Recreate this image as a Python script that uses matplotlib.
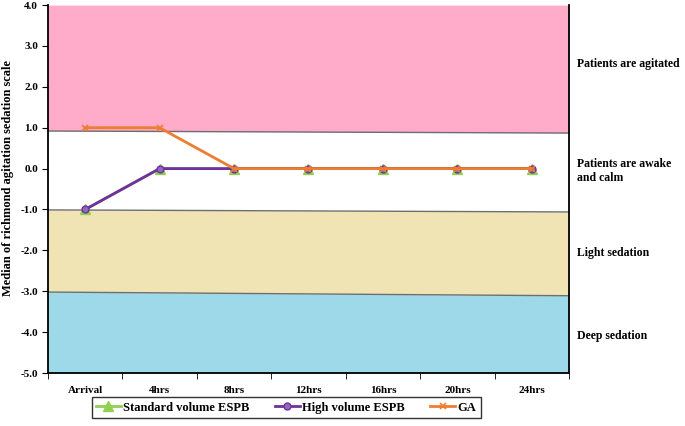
import matplotlib.pyplot as plt
import numpy as np

plt.rcParams['font.family'] = ['Liberation Serif', 'DejaVu Serif']
plt.rcParams['font.weight'] = 'bold'

times = ['Arrival', '4hrs', '8hrs', '12hrs', '16hrs', '20hrs', '24hrs']
standard_espb = [-1, 0, 0, 0, 0, 0, 0]
high_espb = [-1, 0, 0, 0, 0, 0, 0]
ga = [1, 1, 0, 0, 0, 0, 0]

# zone boundaries (left edge, right edge) - drawn slightly tilted in the original
agitated_edge = [0.92, 0.87]
light_edge = [-1.01, -1.06]
deep_edge = [-3.02, -3.11]
zone_labels = ['Patients are agitated', 'Patients are awake\nand calm',
               'Light sedation', 'Deep sedation']
zone_label_y = [2.55, -0.05, -2.07, -4.1]

fig = plt.figure(figsize=(6.85, 4.26), dpi=100)
ax = fig.add_axes([0.070, 0.1244, 0.7607, 0.8636])

xs = np.array([-0.5, 6.5])
ax.fill_between(xs, agitated_edge, 4.0, color='#FFABC9', lw=0, zorder=0)
ax.fill_between(xs, light_edge, agitated_edge, color='white', lw=0, zorder=0)
ax.fill_between(xs, deep_edge, light_edge, color='#F0E4B4', lw=0, zorder=0)
ax.fill_between(xs, -5.0, deep_edge, color='#9DD9E8', lw=0, zorder=0)
for edge in (agitated_edge, light_edge, deep_edge):
    ax.plot(xs, edge, color='#6E6E6E', lw=1.0, zorder=1)

x = np.arange(len(times))
ax.plot(x, standard_espb, color='#92D050', marker='^', ms=7, lw=2,
        label='Standard volume ESPB', zorder=3)
ax.plot(x, high_espb, color='#7030A0', marker='o', ms=5, mfc='#8E6BB5',
        lw=2, label='High volume ESPB', zorder=4)
ax.plot(x, ga, color='#ED7D31', marker='x', ms=5, mew=1.2, lw=2,
        label='GA', zorder=5)

ax.set_xlim(-0.5, 6.5)
ax.set_ylim(-5.0, 4.0)
ax.set_yticks(np.arange(-5, 5, 1))
ax.set_yticklabels(['%.1f' % v for v in np.arange(-5, 5, 1)], fontsize=8)
ax.set_xticks(x)
ax.set_xticklabels(times, fontsize=8)
ax.set_xticks(np.arange(-0.5, 7, 1), minor=True)
ax.tick_params(axis='x', which='major', length=0, pad=9)
ax.tick_params(axis='x', which='minor', length=4, direction='out')
ax.tick_params(axis='y', length=4, direction='out', pad=3)
ax.spines['top'].set_visible(False)
for s in ('left', 'bottom', 'right'):
    ax.spines[s].set_linewidth(1.3)

ax.set_ylabel('Median of richmond agitation sedation scale', fontsize=9,
              fontweight='bold')
ax.yaxis.set_label_coords(-0.066, 0.53)

for lab, yv in zip(zone_labels, zone_label_y):
    ax.text(6.61, yv, lab, fontsize=8.5, va='center', ha='left')

ax.legend(loc='upper center', bbox_to_anchor=(0.457, -0.066), ncol=3,
          fontsize=9, frameon=True, fancybox=False, edgecolor='black',
          handlelength=2.0, handletextpad=0.2, columnspacing=2.0,
          borderpad=0.35, borderaxespad=0)

fig.savefig('out.png', dpi=100)
